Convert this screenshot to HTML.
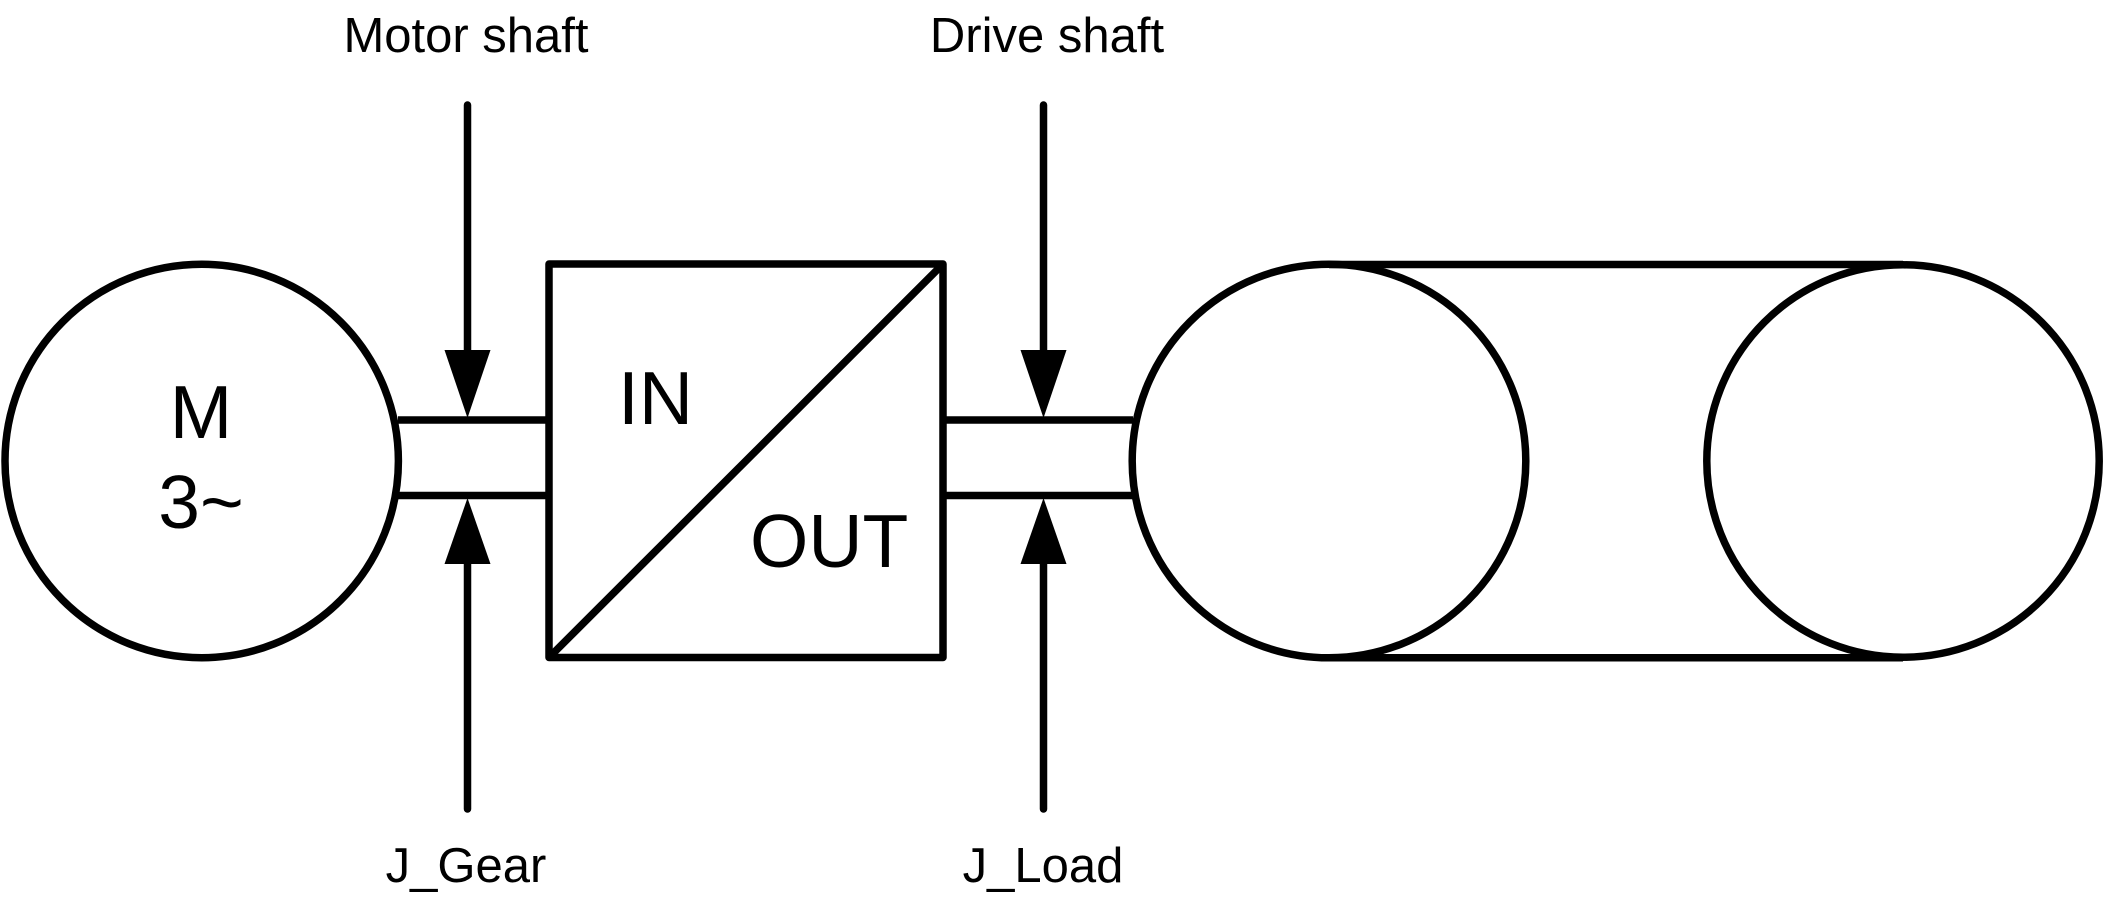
<!DOCTYPE html>
<html>
<head>
<meta charset="utf-8">
<style>
  html, body { margin: 0; padding: 0; background: #fff; }
  body { width: 2105px; height: 900px; overflow: hidden; }
  svg { display: block; }
  text { font-family: "Liberation Sans", Arial, sans-serif; fill: #000; }
</style>
</head>
<body>
<svg width="2105" height="900" viewBox="0 0 2105 900" xmlns="http://www.w3.org/2000/svg">
  <g fill="none" stroke="#000" stroke-width="7.5" stroke-linejoin="round">
    <!-- Motor -->
    <circle cx="201.7" cy="461" r="196.7"/>
    <!-- Motor shaft lines -->
    <line x1="398" y1="420" x2="549" y2="420"/>
    <line x1="398" y1="495.5" x2="549" y2="495.5"/>
    <!-- Gearbox -->
    <rect x="549" y="264" width="394" height="393.5"/>
    <line x1="549" y1="657.5" x2="943" y2="264"/>
    <!-- Drive shaft lines -->
    <line x1="943" y1="420" x2="1133" y2="420"/>
    <line x1="943" y1="495.5" x2="1133" y2="495.5"/>
    <!-- Belt -->
    <line x1="1329" y1="264.5" x2="1903" y2="264.5"/>
    <line x1="1329" y1="657.8" x2="1903" y2="657.8"/>
    <!-- Pulleys -->
    <circle cx="1329" cy="461" r="196.8"/>
    <circle cx="1903" cy="461" r="196.2"/>
  </g>

  <!-- Arrow stems -->
  <g stroke="#000" stroke-width="7.5" stroke-linecap="round">
    <line x1="467.5" y1="105" x2="467.5" y2="352"/>
    <line x1="467.5" y1="562" x2="467.5" y2="809"/>
    <line x1="1043.5" y1="105" x2="1043.5" y2="352"/>
    <line x1="1043.5" y1="562" x2="1043.5" y2="809"/>
  </g>
  <!-- Arrowheads -->
  <g fill="#000" stroke="none">
    <polygon points="444.5,350 490.5,350 467.5,418"/>
    <polygon points="444.5,564 490.5,564 467.5,498"/>
    <polygon points="1020.5,350 1066.5,350 1043.5,418"/>
    <polygon points="1020.5,564 1066.5,564 1043.5,498"/>
  </g>

  <!-- Labels -->
  <text x="466" y="52" font-size="49" text-anchor="middle">Motor shaft</text>
  <text x="1047" y="52" font-size="49" text-anchor="middle">Drive shaft</text>
  <text x="466" y="882" font-size="49" text-anchor="middle">J_Gear</text>
  <text x="1043" y="882" font-size="49" text-anchor="middle">J_Load</text>

  <text x="201" y="438" font-size="75" text-anchor="middle">M</text>
  <text x="201" y="528" font-size="75" text-anchor="middle">3~</text>

  <text x="618" y="424" font-size="75">IN</text>
  <text x="750" y="567" font-size="75">OUT</text>
</svg>
</body>
</html>
